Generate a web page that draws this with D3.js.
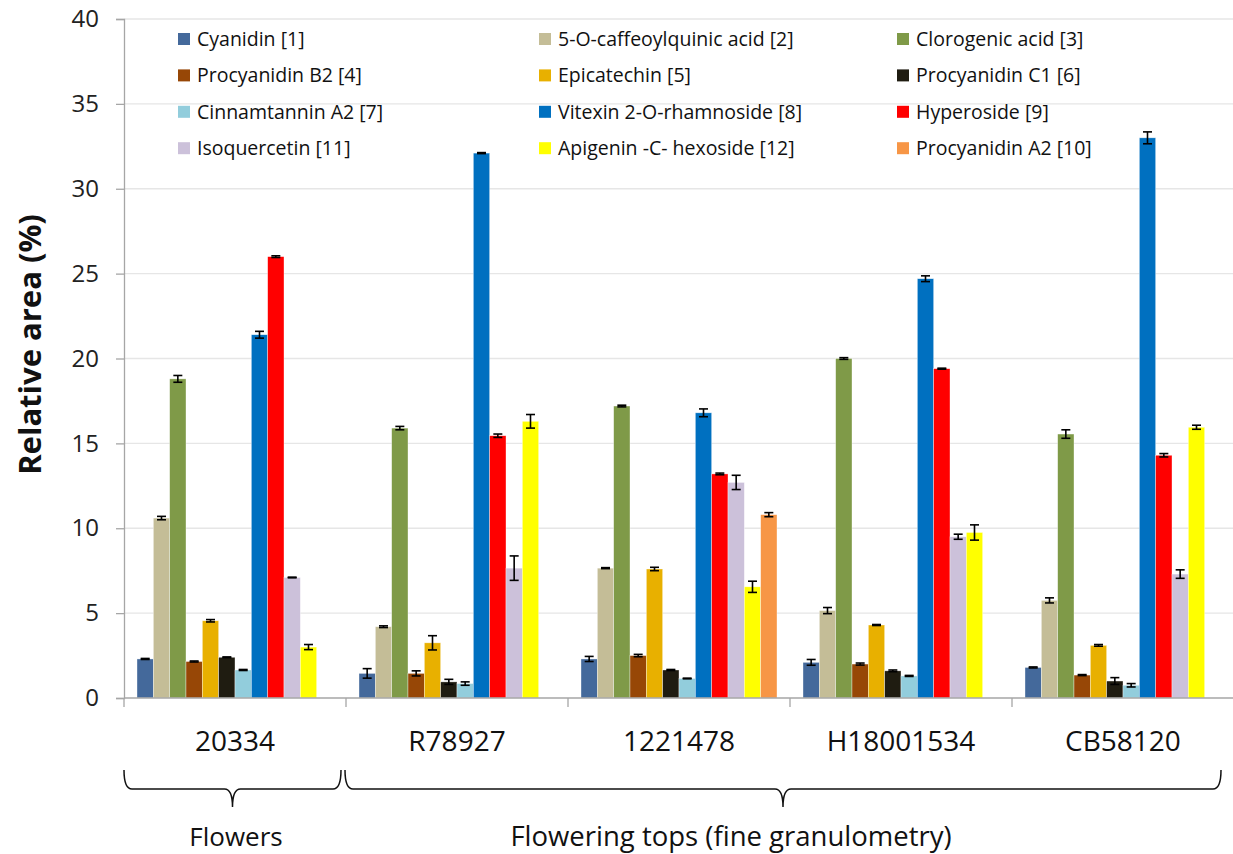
<!DOCTYPE html>
<html><head><meta charset="utf-8">
<script src="https://cdn.jsdelivr.net/npm/d3@7"></script>
<style>body{margin:0;background:#fff;} text{font-family:"Open Sans",sans-serif;}</style>
</head><body>
<svg id="chart" width="1233" height="854"></svg>
<script>
const categories = ["20334", "R78927", "1221478", "H18001534", "CB58120"];
const seriesNames = ["Cyanidin [1]", "5-O-caffeoylquinic acid [2]", "Clorogenic acid [3]",
  "Procyanidin B2 [4]", "Epicatechin [5]", "Procyanidin C1 [6]",
  "Cinnamtannin A2 [7]", "Vitexin 2-O-rhamnoside [8]", "Hyperoside [9]",
  "Isoquercetin [11]", "Apigenin -C- hexoside [12]", "Procyanidin A2 [10]"];
const seriesColors = ["#44699b", "#c4bd97", "#7f9a48", "#974706", "#e8b000", "#1f1c11",
  "#92cddc", "#0070c0", "#ff0000", "#ccc1da", "#ffff00", "#f79646"];
const cyanidin   = [2.3, 1.45, 2.3, 2.1, 1.8];
const caffeoyl   = [10.6, 4.2, 7.65, 5.15, 5.75];
const clorogenic = [18.8, 15.9, 17.2, 20.0, 15.55];
const procB2     = [2.15, 1.45, 2.5, 2.0, 1.35];
const epicatechin= [4.55, 3.25, 7.6, 4.3, 3.1];
const procC1     = [2.4, 0.95, 1.65, 1.6, 1.0];
const cinnamtannin=[1.65, 0.85, 1.15, 1.3, 0.75];
const vitexin    = [21.4, 32.1, 16.8, 24.7, 33.0];
const hyperoside = [26.0, 15.45, 13.2, 19.4, 14.3];
const isoquercetin=[7.1, 7.65, 12.7, 9.5, 7.3];
const apigenin   = [3.0, 16.3, 6.55, 9.75, 15.95];
const procA2     = [0, 0, 10.8, 0, 0];
const errCyanidin   = [0.03, 0.28, 0.15, 0.17, 0.03];
const errCaffeoyl   = [0.1, 0.05, 0.03, 0.18, 0.15];
const errClorogenic = [0.2, 0.1, 0.05, 0.05, 0.25];
const errProcB2     = [0.03, 0.15, 0.07, 0.06, 0.03];
const errEpicatechin= [0.07, 0.42, 0.1, 0.03, 0.05];
const errProcC1     = [0.02, 0.15, 0.03, 0.05, 0.2];
const errCinnamtannin=[0.03, 0.1, 0.02, 0.03, 0.1];
const errVitexin    = [0.2, 0.03, 0.23, 0.17, 0.35];
const errHyperoside = [0.05, 0.1, 0.05, 0.03, 0.1];
const errIsoquercetin=[0.02, 0.72, 0.42, 0.15, 0.25];
const errApigenin   = [0.15, 0.4, 0.33, 0.45, 0.12];
const errProcA2     = [0, 0, 0.12, 0, 0];
const yTicks = [0, 5, 10, 15, 20, 25, 30, 35, 40];
const yTitle = "Relative area (%)";
const groupLabels = [
  {text: "Flowers", from: 0, to: 0, labelCenter: 236, size: 26},
  {text: "Flowering tops (fine granulometry)", from: 1, to: 4, labelCenter: 731, size: 27.5}
];

const allValues = [cyanidin, caffeoyl, clorogenic, procB2, epicatechin, procC1, cinnamtannin,
  vitexin, hyperoside, isoquercetin, apigenin, procA2];
const allErrors = [errCyanidin, errCaffeoyl, errClorogenic, errProcB2, errEpicatechin, errProcC1,
  errCinnamtannin, errVitexin, errHyperoside, errIsoquercetin, errApigenin, errProcA2];

const svg = d3.select("#chart");
const L = 124, R = 1234, T = 19, B = 698;
const x0 = d3.scaleBand().domain(categories).range([L, R]).padding(0);
const x1 = d3.scaleBand().domain(seriesNames.map((d, i) => i))
  .range([13, x0.bandwidth() - 13]).padding(0);
const y = d3.scaleLinear().domain([0, 40]).range([B, T]);

// gridlines
svg.append("g").selectAll("line").data(yTicks.filter(d => d > 0)).join("line")
  .attr("x1", L).attr("x2", R).attr("y1", d => y(d)).attr("y2", d => y(d))
  .attr("stroke", "#e6e6e6").attr("stroke-width", 1.3);

// y axis
const yAxis = svg.append("g").attr("transform", `translate(${L},0)`)
  .call(d3.axisLeft(y).tickValues(yTicks).tickSize(8).tickPadding(17));
yAxis.select(".domain").attr("stroke", "#a6a6a6").attr("stroke-width", 1.3);
yAxis.selectAll(".tick line").attr("stroke", "#a6a6a6").attr("stroke-width", 1.3);
yAxis.selectAll(".tick text").attr("font-size", 24).attr("fill", "#222")
  .attr("font-family", "Open Sans");

// bars
const flat = [];
categories.forEach((c, ci) => {
  seriesNames.forEach((s, si) => {
    flat.push({c, si, v: allValues[si][ci], e: allErrors[si][ci]});
  });
});
const shown = flat.filter(d => d.v > 0);
svg.append("g").selectAll("rect").data(shown).join("rect")
  .attr("x", d => x0(d.c) + x1(d.si))
  .attr("width", x1.bandwidth())
  .attr("y", d => y(d.v))
  .attr("height", d => y(0) - y(d.v))
  .attr("fill", d => seriesColors[d.si])
  .attr("stroke", "rgba(255,255,255,0.6)").attr("stroke-width", 0.6);

// error bars
const eg = svg.append("g").attr("stroke", "#000").attr("stroke-width", 1.6);
shown.forEach(d => {
  const cx = x0(d.c) + x1(d.si) + x1.bandwidth() / 2;
  const e = Math.max(d.e, 0.02);
  eg.append("line").attr("x1", cx).attr("x2", cx).attr("y1", y(d.v + e)).attr("y2", y(d.v - e));
  eg.append("line").attr("x1", cx - 4.5).attr("x2", cx + 4.5).attr("y1", y(d.v + e)).attr("y2", y(d.v + e));
  eg.append("line").attr("x1", cx - 4.5).attr("x2", cx + 4.5).attr("y1", y(d.v - e)).attr("y2", y(d.v - e));
});

// x axis
svg.append("line").attr("x1", L).attr("x2", R).attr("y1", B).attr("y2", B)
  .attr("stroke", "#a6a6a6").attr("stroke-width", 1.3);
const bounds = categories.map(c => x0(c)).concat([R]);
svg.append("g").selectAll("line").data(bounds).join("line")
  .attr("x1", d => d).attr("x2", d => d).attr("y1", B).attr("y2", B + 9)
  .attr("stroke", "#a6a6a6").attr("stroke-width", 1.3);
svg.append("g").selectAll("text").data(categories).join("text")
  .attr("x", d => x0(d) + x0.bandwidth() / 2).attr("y", 751)
  .attr("text-anchor", "middle").attr("font-size", 28).attr("fill", "#111")
  .text(d => d);

// braces
function brace(x1b, x2b, top, mid, tip, r) {
  const cx = (x1b + x2b) / 2;
  return `M${x1b},${top} Q${x1b},${mid} ${x1b + r},${mid} L${cx - r},${mid} Q${cx},${mid} ${cx},${tip}
          M${x2b},${top} Q${x2b},${mid} ${x2b - r},${mid} L${cx + r},${mid} Q${cx},${mid} ${cx},${tip}`;
}
groupLabels.forEach((g, i) => {
  const a = x0(categories[g.from]) + (i === 0 ? 0 : -1);
  const b = x0(categories[g.to]) + x0.bandwidth() - (i === 0 ? 5 : 13);
  svg.append("path").attr("d", brace(a, b, 770, 789, 807, 8))
    .attr("fill", "none").attr("stroke", "#111").attr("stroke-width", 1.5);
  svg.append("text").attr("x", g.labelCenter).attr("y", 846)
    .attr("text-anchor", "middle").attr("font-size", g.size).attr("fill", "#111").text(g.text);
});

// y title
svg.append("text").attr("transform", `translate(41,${(T + B) / 2 - 14}) rotate(-90)`)
  .attr("text-anchor", "middle").attr("font-size", 31).attr("font-weight", "bold")
  .attr("fill", "#111").text(yTitle);

// legend
const colX = [178, 539, 897];
const lg = svg.append("g");
seriesNames.forEach((s, i) => {
  const col = i % 3, row = Math.floor(i / 3);
  const cy = 39 + row * 36.4;
  lg.append("rect").attr("x", colX[col]).attr("y", cy - 6).attr("width", 12).attr("height", 12)
    .attr("fill", seriesColors[i]);
  lg.append("text").attr("x", colX[col] + 19).attr("y", cy).attr("dy", "0.35em")
    .attr("font-size", 19.5).attr("fill", "#111").text(s);
});
</script>
</body></html>
